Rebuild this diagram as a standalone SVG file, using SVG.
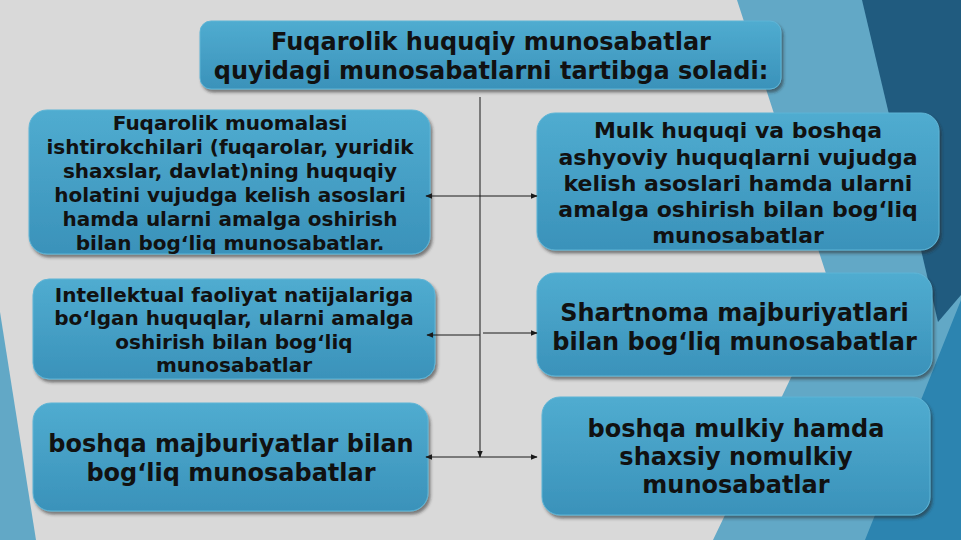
<svg xmlns="http://www.w3.org/2000/svg" width="961" height="540" viewBox="0 0 961 540">
<defs>
<linearGradient id="boxg" x1="0" y1="0" x2="0" y2="1">
<stop offset="0" stop-color="#50acd0"/>
<stop offset="1" stop-color="#3a92ba"/>
</linearGradient>
<filter id="sh" x="-5%" y="-10%" width="110%" height="125%">
<feDropShadow dx="2" dy="3" stdDeviation="1.5" flood-color="#2a2a2a" flood-opacity="0.55"/>
</filter>
<marker id="ah" viewBox="0 0 10 10" refX="9" refY="5" markerWidth="7" markerHeight="7" orient="auto-start-reverse" markerUnits="userSpaceOnUse">
<path d="M0,1 L10,5 L0,9 z" fill="#1a1a1a"/>
</marker>
<style>
.box{fill:url(#boxg);stroke:#5fb5d6;stroke-width:1;filter:url(#sh)}
.t{font-family:"DejaVu Sans","Verdana",sans-serif;font-weight:bold;fill:#111;text-anchor:middle}
.s20{font-size:20px}
.s22{font-size:22px}
.s24{font-size:24px}
.c{stroke:#1a1a1a;stroke-width:1;fill:none}
</style>
</defs>
<g id="background">
<rect x="0" y="0" width="961" height="540" fill="#d9d9d9"/>
<polygon points="737,0 961,0 961,540 713,540 832,292" fill="#62a8c6"/>
<polygon points="961,300 961,540 865,540" fill="#2c84b0"/>
<polygon points="862,0 961,0 961,295 938,322" fill="#205b7f"/>
<polygon points="0,312 36,540 0,540" fill="#62a8c6"/>
</g>
<g id="title">
<rect class="box" x="200" y="21" width="581" height="68" rx="11"/>
<text class="t s24" x="491" y="50">Fuqarolik huquqiy munosabatlar</text>
<text class="t s24" x="491" y="78.5">quyidagi munosabatlarni tartibga soladi:</text>
</g>
<g id="left1">
<rect class="box" x="29" y="110" width="401" height="144" rx="18"/>
<text class="t s20" x="230" y="130">Fuqarolik muomalasi</text>
<text class="t s20" x="230" y="154">ishtirokchilari (fuqarolar, yuridik</text>
<text class="t s20" x="230" y="178">shaxslar, davlat)ning huquqiy</text>
<text class="t s20" x="230" y="202">holatini vujudga kelish asoslari</text>
<text class="t s20" x="230" y="226">hamda ularni amalga oshirish</text>
<text class="t s20" x="230" y="250">bilan bog‘liq munosabatlar.</text>
</g>
<g id="right1">
<rect class="box" x="537" y="113" width="402" height="137" rx="18"/>
<text class="t s22" x="738" y="138">Mulk huquqi va boshqa</text>
<text class="t s22" x="738" y="164.5">ashyoviy huquqlarni vujudga</text>
<text class="t s22" x="738" y="190.8">kelish asoslari hamda ularni</text>
<text class="t s22" x="738" y="217">amalga oshirish bilan bog‘liq</text>
<text class="t s22" x="738" y="243">munosabatlar</text>
</g>
<g id="left2">
<rect class="box" x="33" y="279" width="402" height="100" rx="16"/>
<text class="t s20" x="234" y="301.5">Intellektual faoliyat natijalariga</text>
<text class="t s20" x="234" y="325">bo‘lgan huquqlar, ularni amalga</text>
<text class="t s20" x="234" y="348.5">oshirish bilan bog‘liq</text>
<text class="t s20" x="234" y="372">munosabatlar</text>
</g>
<g id="right2">
<rect class="box" x="537" y="273" width="395" height="103" rx="18"/>
<text class="t s24" x="734.5" y="321">Shartnoma majburiyatlari</text>
<text class="t s24" x="734.5" y="350">bilan bog‘liq munosabatlar</text>
</g>
<g id="left3">
<rect class="box" x="33" y="403" width="395" height="108" rx="18"/>
<text class="t s24" x="231" y="452">boshqa majburiyatlar bilan</text>
<text class="t s24" x="231" y="481">bog‘liq munosabatlar</text>
</g>
<g id="right3">
<rect class="box" x="542" y="397" width="388" height="118" rx="18"/>
<text class="t s24" x="736" y="437">boshqa mulkiy hamda</text>
<text class="t s24" x="736" y="465">shaxsiy nomulkiy</text>
<text class="t s24" x="736" y="493">munosabatlar</text>
</g>
<g id="connectors">
<line class="c" x1="480" y1="97" x2="480" y2="457" marker-end="url(#ah)"/>
<line class="c" x1="480" y1="196" x2="426" y2="196" marker-end="url(#ah)"/>
<line class="c" x1="480" y1="196" x2="537" y2="196" marker-end="url(#ah)"/>
<line class="c" x1="480" y1="335" x2="427" y2="335" marker-end="url(#ah)"/>
<line class="c" x1="483" y1="333" x2="537" y2="333" marker-end="url(#ah)"/>
<line class="c" x1="480" y1="457" x2="426" y2="457" marker-end="url(#ah)"/>
<line class="c" x1="480" y1="457" x2="537" y2="457" marker-end="url(#ah)"/>
</g>
</svg>
